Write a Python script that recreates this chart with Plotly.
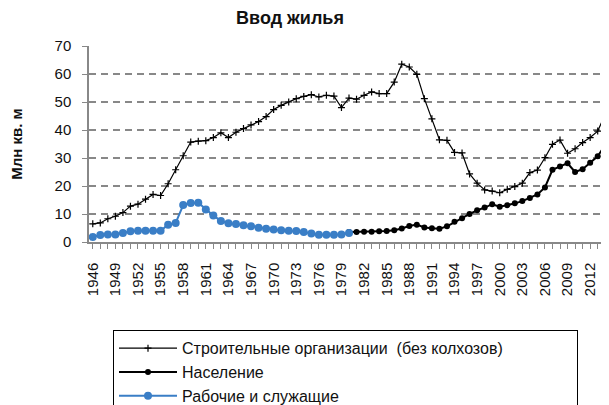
import plotly.graph_objects as go

years = list(range(1946, 2015))

stroit = [6.5, 6.8, 8.3, 9.2, 10.5, 12.8, 13.5, 15.3, 17.0, 16.6,
          20.8, 25.8, 30.8, 35.7, 36.0, 36.2, 37.3, 39.0, 37.3, 39.2,
          40.5, 41.8, 43.0, 44.8, 47.3, 48.8, 50.0, 51.2, 52.0, 52.6,
          51.8, 52.4, 52.1, 48.0, 51.4, 51.0, 52.4, 53.6, 53.0, 53.0,
          57.1, 63.5, 62.5, 59.9, 51.2, 44.0, 36.5, 36.3, 32.0, 31.8,
          24.3, 21.0, 18.6, 18.2, 17.6, 18.8, 19.8, 21.0, 24.8, 25.7,
          30.1, 34.9, 36.4, 31.7, 33.3, 35.5, 37.3, 39.6, 45.6]

years_nas = list(range(1980, 2015))
naselenie = [3.6, 3.6, 3.7, 3.7, 3.8, 3.9, 4.2, 4.8, 5.7, 6.2,
             5.2, 4.9, 4.7, 5.6, 7.2, 8.5, 10.0, 11.3, 12.3, 13.5,
             12.6, 13.1, 13.8, 14.6, 15.7, 17.0, 19.5, 25.8, 27.0, 28.1,
             25.0, 26.0, 28.3, 30.6, 34.7]

years_rab = list(range(1946, 1981))
rabochie = [1.8, 2.5, 2.7, 2.7, 3.2, 3.8, 4.0, 4.0, 4.0, 4.0,
            6.2, 6.8, 13.2, 13.9, 14.0, 11.6, 9.5, 7.5, 6.7, 6.4,
            6.0, 5.6, 5.1, 4.7, 4.5, 4.2, 4.0, 3.9, 3.6, 3.0,
            2.6, 2.6, 2.6, 2.7, 3.2]

names = ["Строительные организации  (без колхозов)", "Население", "Рабочие и служащие"]
title_text = "Ввод жилья"
ytitle = "Млн кв. м"

# page body has an 8px margin, so the figure is placed at (8, 8)
W, H = 601, 397

fig = go.Figure()
fig.add_trace(go.Scatter(
    x=years, y=stroit, name=names[0], mode="lines+markers",
    line=dict(color="black", width=1.2),
    marker=dict(symbol="cross-thin", size=5, color="black", line=dict(color="black", width=1.2))))
fig.add_trace(go.Scatter(
    x=years_nas, y=naselenie, name=names[1], mode="lines+markers",
    line=dict(color="black", width=2),
    marker=dict(symbol="circle", size=6, color="black")))
fig.add_trace(go.Scatter(
    x=years_rab, y=rabochie, name=names[2], mode="lines+markers",
    line=dict(color="#3A7EC6", width=2),
    marker=dict(symbol="circle", size=8, color="#3A7EC6")))

fig.update_layout(
    width=W, height=H,
    margin=dict(l=81, r=0, t=38, b=163, autoexpand=False),
    paper_bgcolor="white", plot_bgcolor="white",
    font=dict(family="Arial, Liberation Sans, sans-serif", color="#111"),
    title=dict(text="<b>" + title_text + "</b>", x=282/W, xanchor="center",
               y=1 - 10/H, yanchor="middle", font=dict(size=18, color="#111")),
    showlegend=True,
    legend=dict(orientation="h", x=(113-89)/520, y=(241.7-330)/196, xanchor="left", yanchor="top",
                bordercolor="black", borderwidth=1, bgcolor="white",
                font=dict(size=16, color="#111"),
                itemwidth=58, entrywidth=390, entrywidthmode="pixels"),
)

fig.update_xaxes(
    range=[1945.5, 2014.5], tick0=1946, dtick=3, automargin=False,
    tickangle=-90, tickfont=dict(size=15, color="#111"),
    showline=True, linecolor="#888", linewidth=1.5,
    ticks="outside", ticklen=5, tickcolor="#888",
    minor=dict(dtick=1, tick0=1946, ticks="outside", ticklen=5, tickcolor="#888", showgrid=False),
    showgrid=False, zeroline=False, ticklabelstandoff=8,
)
fig.update_yaxes(
    range=[0, 70], dtick=10, automargin=False,
    tickfont=dict(size=15, color="#111"),
    showline=True, linecolor="#888", linewidth=1.5,
    ticks="outside", ticklen=5, tickcolor="#888",
    showgrid=True, gridcolor="#888", griddash="7px,5px", gridwidth=1.5,
    zeroline=False, ticklabelstandoff=8,
    title=dict(text="<b>" + ytitle + "</b>", font=dict(size=15, color="#111"), standoff=32),
)

fig.write_html("out.html")
